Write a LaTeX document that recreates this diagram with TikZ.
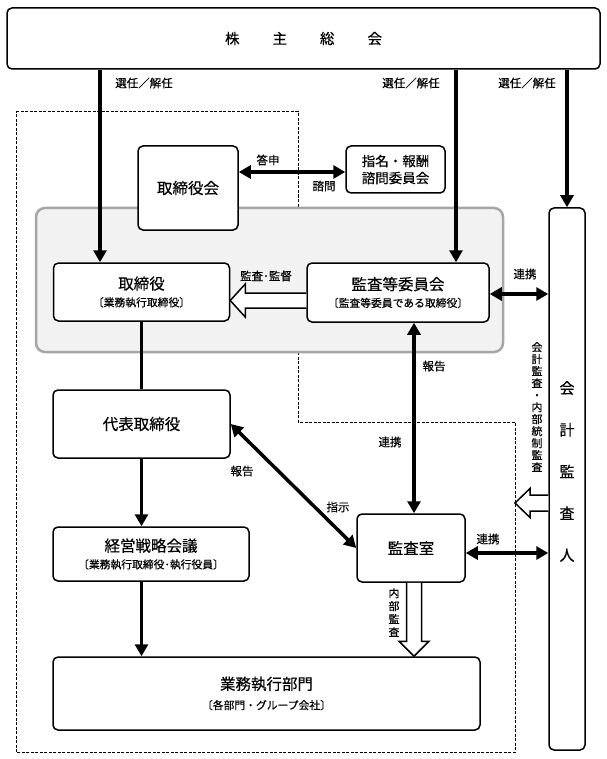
\documentclass[tikz,border=0pt]{standalone}
\usepackage{fontspec}
\setmainfont{Noto Sans CJK JP}[FakeBold=0.35]
\usetikzlibrary{arrows.meta,calc}
\definecolor{panelfill}{RGB}{242,242,242}
\definecolor{panelline}{RGB}{166,166,166}
\newcommand{\mainsz}{\fontsize{15.5}{17}\selectfont}
\tikzset{
  box/.style={draw, line width=1.5pt, rounded corners=5pt, fill=white, inner sep=0pt, align=center, font=\fontsize{10.8}{17}\selectfont},
  lab/.style={font=\fontsize{11.5}{13}\selectfont, inner sep=0pt},
  arr/.style={line width=3.5pt, -{Triangle[length=12pt,width=13pt]}},
  darr/.style={line width=3.5pt, {Triangle[length=12pt,width=13pt]}-{Triangle[length=12pt,width=13pt]}},
  plainline/.style={line width=3.5pt},
  hollow/.style={draw, line width=1.5pt, fill=white, line join=miter},
  dashbox/.style={line width=1pt, dash pattern=on 3pt off 1.5pt},
  vtext/.style={font=\fontsize{11}{12}\selectfont, align=center, inner sep=0pt},
}
\begin{document}
\begin{tikzpicture}[x=1pt,y=-1pt]
\useasboundingbox (0,0) rectangle (606,759);
% dashed outline
\draw[dashbox] (16,112) -- (298,112) -- (298,422) -- (515,422) -- (515,752) -- (16,752) -- cycle;
% gray panel
\node[draw=panelline, line width=2.5pt, fill=panelfill, rounded corners=9pt, minimum width=467pt, minimum height=144pt, inner sep=0pt] (panel) at (269.5,280) {};
% boxes
\node[box, minimum width=593pt, minimum height=61pt, font=\fontsize{14.5}{17}\selectfont] (top) at (303.5,38.5) {株\hspace{33pt}主\hspace{33pt}総\hspace{33pt}会};
\node[box, minimum width=100pt, minimum height=84pt, font=\mainsz] (bd) at (188,188) {取締役会};
\node[box, minimum width=99pt, minimum height=47pt, font=\fontsize{13.5}{17}\selectfont] (nom) at (395.5,169.5) {指名・報酬\\諮問委員会};
\node[box, minimum width=176pt, minimum height=58pt] (tori) at (141.5,292) {{\mainsz 取締役}\\〔業務執行取締役〕};
\node[box, minimum width=182pt, minimum height=59pt] (kan) at (398,292.5) {{\mainsz 監査等委員会}\\〔監査等委員である取締役〕};
\node[box, minimum width=36pt, minimum height=542pt] (kaikei) at (567,479) {};
\node[box, minimum width=177pt, minimum height=68pt, font=\mainsz] (daihyo) at (141.5,424) {代表取締役};
\node[box, minimum width=196pt, minimum height=54pt] (keiei) at (151,554) {{\mainsz 経営戦略会議}\\〔業務執行取締役･執行役員〕};
\node[box, minimum width=108pt, minimum height=68pt, font=\mainsz] (shitsu) at (411,548) {監査室};
\node[box, minimum width=427pt, minimum height=73pt, font=\fontsize{10.8}{19.5}\selectfont] (gyomu) at (266.5,693.5) {{\fontsize{15.5}{19.5}\selectfont 業務執行部門}\\〔各部門・グループ会社〕};
% vertical texts
\node[font=\fontsize{15}{41.75}\selectfont, align=center, inner sep=0pt] (kaikeitext) at (567,471.5) {会\\計\\監\\査\\人};
\node[vtext] (v1) at (537,407) {会\\計\\監\\査\\・\\内\\部\\統\\制\\監\\査};
\node[vtext, font=\fontsize{11}{13}\selectfont] (v2) at (394,612.5) {内\\部\\監\\査};
% helper coordinates
\coordinate (xa) at (100,0);
\coordinate (xb) at (456,0);
\coordinate (xc) at (414,0);
\coordinate (c1) at ($(bd.east)+(0,-16)$);
\coordinate (yk) at (0,294);
\coordinate (ys) at (0,553);
\coordinate (yh1) at (0,300.5);
\coordinate (yh2) at (0,503);
\coordinate (xh2) at (515,0);
% arrows from general meeting
\draw[arr] (top.south -| xa) -- (tori.north -| xa);
\draw[arr] (top.south -| xb) -- (kan.north -| xb);
\draw[arr] (top.south -| kaikei.north) -- (kaikei.north);
\node[lab] (l1) at (144,83) {選任／解任};
\node[lab] (l2) at (411,83) {選任／解任};
\node[lab] (l3) at (527,83) {選任／解任};
% board <-> nomination committee
\draw[darr] (c1) -- (c1 -| nom.west);
\node[lab] (l4) at (268,160) {答申};
\node[lab] (l5) at (324,186) {諮問};
% main chain
\draw[plainline] (tori.south) -- (daihyo.north);
\draw[arr] (daihyo.south) -- (daihyo.south |- keiei.north);
\draw[arr] (keiei.south -| daihyo.south) -- (gyomu.north -| daihyo.south);
% audit committee links
\draw[darr] (kan.south -| xc) -- (shitsu.north -| xc);
\node[lab] (l6) at (434,366) {報告};
\node[lab] (l7) at (390,442) {連携};
\draw[darr] (kan.east |- yk) -- (kaikei.west |- yk);
\node[lab] (l8) at (525,274) {連携};
\draw[darr] (daihyo.east) -- (shitsu.west);
\node[lab] (l9) at (242,471) {報告};
\node[lab] (l10) at (338,507) {指示};
\draw[darr] (shitsu.east |- ys) -- (kaikei.west |- ys);
\node[lab] (l11) at (488,539) {連携};
% hollow arrows
\draw[hollow] let \p1=(kan.west |- yh1), \p2=(tori.east |- yh1) in
  (\x1,\y1+7.5pt) -- (\x2+15pt,\y1+7.5pt) -- (\x2+15pt,\y1+16.5pt) -- (\x2,\y1) -- (\x2+15pt,\y1-16.5pt) -- (\x2+15pt,\y1-7.5pt) -- (\x1,\y1-7.5pt);
\node[lab] (l12) at (266,276) {監査･監督};
\draw[hollow] let \p1=(kaikei.west |- yh2), \p2=(xh2 |- yh2) in
  (\x1,\y1+8pt) -- (\x2+15pt,\y1+8pt) -- (\x2+15pt,\y1+14.5pt) -- (\x2,\y1) -- (\x2+15pt,\y1-14.5pt) -- (\x2+15pt,\y1-8pt) -- (\x1,\y1-8pt);
\draw[hollow] let \p1=(shitsu.south -| xc), \p2=(gyomu.north -| xc) in
  (\x1-7.5pt,\y1) -- (\x1-7.5pt,\y2+15pt) -- (\x1-15pt,\y2+15pt) -- (\x1,\y2) -- (\x1+15pt,\y2+15pt) -- (\x1+7.5pt,\y2+15pt) -- (\x1+7.5pt,\y1);
\end{tikzpicture}
\end{document}
